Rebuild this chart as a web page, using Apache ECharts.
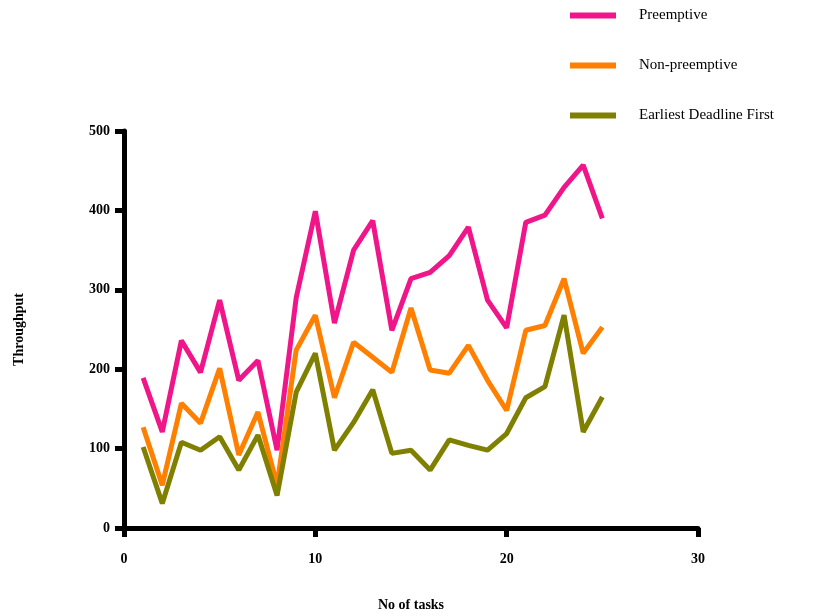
<!DOCTYPE html>
<html>
<head>
<meta charset="utf-8">
<script src="https://cdn.jsdelivr.net/npm/echarts@6/dist/echarts.min.js"></script>
<style>
  html, body { margin: 0; padding: 0; background: #fff; }
  #chart { width: 824px; height: 616px; }
</style>
</head>
<body>
<div id="chart"></div>
<script>
// number of tasks on x
var tasks = [1, 2, 3, 4, 5, 6, 7, 8, 9, 10, 11, 12, 13, 14, 15, 16, 17, 18, 19, 20, 21, 22, 23, 24, 25];
// throughput per scheduler
var preemptive = [189, 121, 236, 196, 287, 186, 211, 98, 290, 399, 258, 350, 387, 249, 314, 322, 343, 379, 287, 252, 385, 394, 429, 457, 390];
var nonPreemptive = [127, 54, 157, 132, 201, 92, 146, 54, 224, 268, 164, 234, 215, 196, 277, 199, 195, 230, 186, 148, 249, 255, 314, 220, 253];
var edf = [102, 31, 108, 98, 115, 73, 117, 41, 171, 220, 98, 133, 174, 94, 98, 73, 111, 104, 98, 119, 164, 178, 268, 121, 165];

var names = ['Preemptive', 'Non-preemptive', 'Earliest Deadline First'];
var colors = ['#f0168a', '#ff8000', '#808000'];

function pairs(arr) {
    return tasks.map(function (t, i) { return [t, arr[i]]; });
}

var myChart = echarts.init(document.getElementById('chart'));

var font = '"Liberation Serif", "DejaVu Serif", serif';

var option = {
    animation: false,
    color: colors,
    legend: {
        orient: 'vertical',
        left: 565,
        top: 3,
        itemWidth: 46,
        itemHeight: 6,
        itemGap: 35,
        icon: 'rect',
        data: names,
        textStyle: {
            fontFamily: font,
            fontSize: 15,
            color: '#000',
            padding: [0, 0, 0, 18]
        }
    },
    grid: {
        left: 124,
        right: 126,
        top: 131,
        bottom: 88,
        outerBoundsMode: 'none'
    },
    xAxis: {
        type: 'value',
        min: 0,
        max: 30,
        interval: 10,
        name: 'No of tasks',
        nameLocation: 'middle',
        nameGap: 70,
        nameTextStyle: { fontFamily: font, fontWeight: 'bold', fontSize: 14, color: '#000' },
        splitLine: { show: false },
        axisLine: { lineStyle: { color: '#000', width: 5 } },
        axisTick: { length: 9, lineStyle: { color: '#000', width: 5 } },
        axisLabel: { margin: 24, fontFamily: font, fontWeight: 'bold', fontSize: 14, color: '#000' }
    },
    yAxis: {
        type: 'value',
        min: 0,
        max: 500,
        interval: 100,
        name: 'Throughput',
        nameLocation: 'middle',
        nameGap: 98,
        nameTextStyle: { fontFamily: font, fontWeight: 'bold', fontSize: 14, color: '#000' },
        splitLine: { show: false },
        axisLine: { lineStyle: { color: '#000', width: 5 } },
        axisTick: { length: 9, lineStyle: { color: '#000', width: 5 } },
        axisLabel: { margin: 14, fontFamily: font, fontWeight: 'bold', fontSize: 14, color: '#000' }
    },
    series: [
        { name: names[0], type: 'line', data: pairs(preemptive), showSymbol: false, lineStyle: { width: 5 } },
        { name: names[1], type: 'line', data: pairs(nonPreemptive), showSymbol: false, lineStyle: { width: 5 } },
        { name: names[2], type: 'line', data: pairs(edf), showSymbol: false, lineStyle: { width: 5 } }
    ]
};

myChart.setOption(option, true);
</script>
</body>
</html>
